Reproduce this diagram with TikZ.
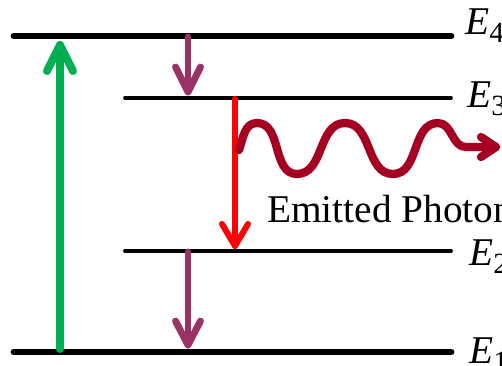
\documentclass[tikz,border=0pt]{standalone}
\usepackage{fontspec}
\setmainfont{Liberation Serif}
\usetikzlibrary{calc}
\definecolor{lvgreen}{RGB}{0,176,80}
\definecolor{lvpurple}{RGB}{153,51,102}
\definecolor{lvred}{RGB}{255,0,0}
\definecolor{lvwave}{RGB}{165,0,33}
\newcommand{\lvlab}[1]{\textit{E}\raisebox{-6pt}{\fontsize{22}{22}\selectfont #1}}
\tikzset{
  levelthick/.style={line width=5.2pt, line cap=round, black},
  levelthin/.style={line width=2.9pt, line cap=round, black},
  greenarr/.style={line width=6pt, lvgreen, line cap=round, line join=round},
  purparr/.style={line width=5.2pt, lvpurple, line cap=round, line join=round},
  redarr/.style={line width=4.5pt, lvred, line cap=round, line join=round},
  wavearr/.style={line width=6.2pt, lvwave, line cap=round, line join=round},
  lab/.style={font=\fontsize{29.5}{30}\selectfont, inner sep=0pt, anchor=base west},
}
\begin{document}
\begin{tikzpicture}[x=0.75pt, y=-0.75pt]
\useasboundingbox (0,0) rectangle (502,365);
\clip (0,0) rectangle (502,365);
% levels
\coordinate (e4l) at (14,36);  \coordinate (e4r) at (451,36);
\coordinate (e3l) at (125,98); \coordinate (e3r) at (451,98);
\coordinate (e2l) at (125,251);\coordinate (e2r) at (451,251);
\coordinate (e1l) at (14,352); \coordinate (e1r) at (451,352);
\draw[levelthick] (e4l) -- (e4r);
\draw[levelthin] (e3l) -- (e3r);
\draw[levelthin] (e2l) -- (e2r);
\draw[levelthick] (e1l) -- (e1r);
% labels
\node[lab] (l4) at (465,34) {\lvlab{4}};
\node[lab] (l3) at (467,107) {\lvlab{3}};
\node[lab] (l2) at (469,265) {\lvlab{2}};
\node[lab] (l1) at (469,363) {\lvlab{1}};
% green absorption arrow
\coordinate (g0) at (60,349); \coordinate (g1) at (60,45);
\draw[greenarr] (g0) -- (g1);
\draw[greenarr] ($(g1)+(-13,26)$) -- (g1) -- ($(g1)+(13,26)$);
% purple top
\coordinate (p0) at (188,37); \coordinate (p1) at (188,92);
\draw[purparr] (p0) -- (p1);
\draw[purparr] ($(p1)+(-12.5,-25)$) -- (p1) -- ($(p1)+(12.5,-25)$);
% red
\coordinate (r0) at (235,99); \coordinate (r1) at (235,246);
\draw[redarr] (r0) -- (r1);
\draw[redarr] ($(r1)+(-13,-22)$) -- (r1) -- ($(r1)+(13,-22)$);
% purple bottom
\coordinate (q0) at (188,252); \coordinate (q1) at (188,345);
\draw[purparr] (q0) -- (q1);
\draw[purparr] ($(q1)+(-12.5,-24)$) -- (q1) -- ($(q1)+(12.5,-24)$);
% wave
\coordinate (w0) at (239,150);
\coordinate (w1) at (496,147);
\draw[wavearr] (w0) to[out=70,in=180] (257,123) to[out=0,in=180] (297,174)
  to[out=0,in=180] (345,123) to[out=0,in=180] (393,174) to[out=0,in=180] (438,123)
  to[out=0,in=180] (466,147) -- (w1);
\draw[wavearr] ($(w1)+(-15,-10)$) -- (w1) -- ($(w1)+(-15,10)$);
% text
\node[lab] (ph) at (267,222) {Emitted Photon};
\end{tikzpicture}
\end{document}
